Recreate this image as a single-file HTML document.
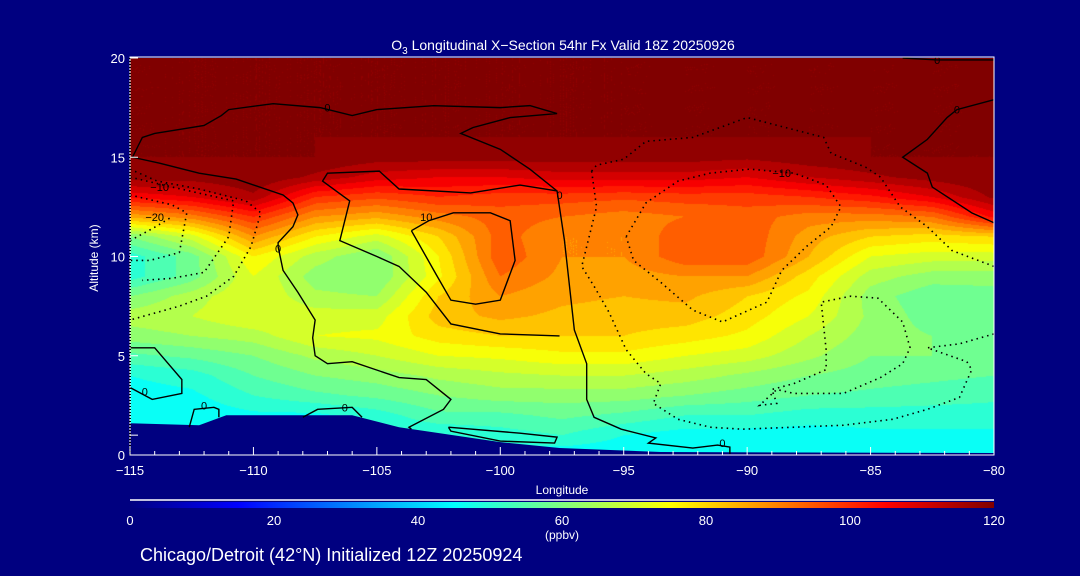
<!DOCTYPE html>
<html><head><meta charset="utf-8">
<style>
html,body{margin:0;padding:0;background:#000080;}
#wrap{position:relative;width:1080px;height:576px;background:#000080;overflow:hidden;font-family:"Liberation Sans",sans-serif;color:#fff;}
canvas{position:absolute;left:130px;top:58px;}
svg{position:absolute;left:0;top:0;}
</style></head>
<body>
<div id="wrap">
<canvas id="field" width="864" height="397"></canvas>
<svg id="svg" width="1080" height="576"></svg>
</div>
<script>
// ---- data ----
const lonNodes = [-115,-112.5,-110,-107.5,-105,-102.5,-100,-97.5,-95,-92.5,-90,-87.5,-85,-82.5,-80];
const altNodes = [0,1,2,3,4,5,6,7,8,9,10,11,12,13,14,15,16,17,18,19,20];
const ozone = [
[44,44,45,45,46,46,46,45,45,45,44,44,45,45,45],
[45,45,46,46,48,48,50,52,48,46,46,46,47,47,47],
[45,45,47,47,50,55,55,57,55,52,52,50,50,50,50],
[46,47,52,55,57,60,62,62,62,60,58,56,55,54,53],
[48,50,56,60,62,65,67,68,68,66,63,60,58,57,56],
[55,57,60,65,68,72,73,75,75,72,70,65,60,60,59],
[62,64,66,72,73,78,80,80,80,78,75,68,62,60,60],
[66,68,72,70,70,82,85,83,82,82,78,72,63,58,58],
[60,66,72,65,64,80,88,85,84,85,80,75,62,57,58],
[50,58,72,62,60,75,92,87,86,88,88,78,66,62,62],
[50,58,76,66,60,76,95,88,88,95,95,84,72,70,70],
[60,70,88,76,70,80,94,88,88,95,95,86,80,78,80],
[85,90,100,88,85,90,94,92,90,92,94,90,90,92,105],
[105,108,115,100,97,100,98,98,97,98,98,100,103,108,117],
[118,118,120,115,110,108,108,110,110,110,108,112,115,118,120],
[120,120,120,120,118,118,118,118,118,118,117,119,120,120,120],
[120,120,120,120,120,120,120,120,120,120,120,120,120,120,120],
[120,120,120,120,120,120,120,120,120,120,120,120,120,120,120],
[120,120,120,120,120,120,120,120,120,120,120,120,120,120,120],
[120,120,120,120,120,120,120,120,120,120,120,120,120,120,120],
[120,120,120,120,120,120,120,120,120,120,120,120,120,120,120]];
const terrain = [[-115,1.6],[-112.2,1.5],[-111.1,2.0],[-106.0,2.0],[-104.1,1.4],[-100.0,0.65],[-97.6,0.35],[-93.5,0.15],[-80,0.1]];
const xTicks = [-115,-110,-105,-100,-95,-90,-85,-80];
const yTicks = [0,5,10,15,20];
const cbTicks = [0,20,40,60,80,100,120];
// contour polylines [lon,alt]
const cSolid = [
[[-114.9,15.0],[-114.5,16.0],[-114.0,16.2],[-112.0,16.6],[-111.3,17.1],[-111.0,17.4],[-109.2,17.7],[-107.3,17.5],[-106.0,17.1],[-105.0,17.4],[-102.7,17.6],[-100.0,17.5],[-98.8,17.6],[-97.7,17.2],[-99.6,17.0],[-101.1,16.5],[-101.6,16.2],[-100.0,15.4],[-98.8,14.4],[-97.7,13.3],[-97.4,10.8],[-97.0,6.3],[-96.5,4.6],[-96.5,2.8],[-96.2,1.9],[-95.1,1.3],[-93.7,0.86],[-94.0,0.6],[-92.2,0.35],[-91.2,0.5],[-90.7,0.4],[-90.7,0.05]],
[[-114.9,15.0],[-113.8,14.7],[-112.2,14.2],[-110.7,13.9],[-108.8,13.1],[-108.4,12.7],[-108.2,12.1],[-108.4,11.5],[-109.0,10.7],[-109.0,10.5],[-108.8,9.3],[-108.2,8.2],[-107.5,6.8],[-107.6,5.9],[-107.5,5.0],[-107.0,4.6],[-106.0,4.7],[-104.1,3.9],[-103.0,3.8],[-102.0,2.8],[-102.3,2.3],[-103.7,1.4],[-103.6,1.3]],
[[-97.7,13.3],[-99.2,13.6],[-101.2,13.2],[-104.1,13.4],[-104.9,14.3],[-107.0,14.2],[-107.2,13.8],[-106.1,12.8],[-106.5,10.8],[-105.0,10.0],[-104.1,9.5],[-103.0,8.2],[-102.0,6.6],[-100.0,6.1],[-97.6,6.0]],
[[-103.6,11.3],[-102.9,11.8],[-101.9,12.2],[-100.4,12.2],[-99.6,11.8],[-99.4,9.8],[-100.0,7.8],[-101.0,7.6],[-102.0,7.8],[-102.6,9.1],[-103.6,11.3]],
[[-102.1,1.4],[-99.2,1.1],[-97.7,0.9],[-97.8,0.6],[-100.0,0.7],[-102.0,1.2],[-102.1,1.4]],
[[-80.0,17.9],[-81.5,17.4],[-81.9,17.0],[-82.7,15.9],[-83.7,15.0],[-82.7,14.2],[-82.5,13.5],[-80.9,12.2],[-80.0,11.7]],
[[-83.7,20.0],[-82.3,19.9],[-80.0,19.9]],
[[-115,5.4],[-114.0,5.4],[-112.9,3.8],[-112.9,3.1],[-114.1,2.8],[-115,3.4]],
[[-112.6,1.4],[-112.4,2.3],[-111.6,2.4],[-111.4,2.3],[-111.4,1.9]],
[[-108.0,1.9],[-107.4,2.3],[-106.0,2.4],[-105.6,1.9]]];
const cDotted = [
[[-96.3,14.3],[-96.1,14.6],[-95.0,14.9],[-94.1,15.8],[-92.2,16.0],[-90.0,17.0],[-86.9,16.0],[-86.6,15.2],[-85.2,14.5],[-84.6,14.0],[-83.8,12.5],[-82.7,11.5],[-81.7,10.3],[-80.0,9.5]],
[[-96.3,14.3],[-96.2,13.4],[-96.1,12.5],[-96.7,9.5],[-96.2,8.5],[-95.6,7.2],[-94.9,5.3],[-94.1,4.1],[-93.5,3.6],[-93.8,2.6],[-92.8,1.8],[-91.5,1.4],[-90.2,1.3],[-88.1,1.4],[-86.1,1.5],[-84.1,1.8],[-82.7,2.3],[-81.4,2.9],[-80.9,4.3],[-81.1,4.7],[-82.7,5.4],[-81.4,5.6],[-80.0,6.1]],
[[-94.9,11.0],[-94.1,12.7],[-92.8,13.8],[-91.5,14.2],[-89.9,14.4],[-88.1,14.2],[-86.8,13.6],[-86.2,12.5],[-86.6,11.5],[-87.6,10.5],[-88.6,9.3],[-89.2,7.7],[-91.0,6.7],[-92.2,7.3],[-93.5,8.7],[-94.6,9.8],[-94.9,11.0]],
[[-86.8,5.3],[-87.0,7.7],[-85.8,8.0],[-84.7,7.9],[-83.7,6.7],[-83.4,5.4],[-83.7,4.6],[-84.6,3.9],[-86.1,3.1],[-88.1,3.1],[-88.8,3.3],[-89.5,2.5],[-88.8,2.6],[-89.0,3.3],[-88.1,3.6],[-86.8,4.3],[-86.8,5.3]],
[[-115,14.4],[-113.9,13.8],[-112.2,13.4],[-110.3,12.8],[-109.7,12.2],[-110.1,10.5],[-110.8,9.0],[-111.9,8.0],[-113.0,7.5],[-115,6.8]],
[[-115,14.0],[-113.3,13.5],[-110.8,12.8],[-111.0,11.0],[-112.0,9.2],[-113.3,8.9],[-114.5,8.8]],
[[-115,13.1],[-113.3,12.6],[-112.7,12.2],[-113.0,10.2],[-114.2,9.8],[-115,9.8]],
[[-115,10.8],[-114.1,11.4],[-113.3,12.0]]];
const cLabels = [[-107.0,17.5,"0"],[-97.6,13.1,"0"],[-109.0,10.4,"0"],[-106.3,2.4,"0"],[-114.4,3.2,"0"],[-112.0,2.5,"0"],[-91.0,0.6,"0"],[-82.3,19.9,"0"],[-81.5,17.4,"0"],[-103.0,12.0,"10"],[-113.8,13.5,"−10"],[-88.6,14.2,"−10"],[-114.0,12.0,"−20"]];

// ---- axes ----
const X0=130,X1=994,Y0=455,Y1=58;
const sx = lon => X0+(lon+115)/35*(X1-X0);
const sy = alt => Y0-alt/20*(Y0-Y1);
function jet(v){
  const t=Math.max(0,Math.min(1,v/120));
  const c=a=>Math.round(255*Math.max(0,Math.min(1,a)));
  return [c(1.5-Math.abs(4*t-3)),c(1.5-Math.abs(4*t-2)),c(1.5-Math.abs(4*t-1))];
}
function sample(lon,alt){
  let fi=(lon+115)/2.5, fj=alt;
  fi=Math.max(0,Math.min(lonNodes.length-1.0001,fi));
  fj=Math.max(0,Math.min(altNodes.length-1.0001,fj));
  const i=Math.floor(fi),j=Math.floor(fj),a=fi-i,b=fj-j;
  return ozone[j][i]*(1-a)*(1-b)+ozone[j][i+1]*a*(1-b)+ozone[j+1][i]*(1-a)*b+ozone[j+1][i+1]*a*b;
}
// field
const cv=document.getElementById('field'),ctx=cv.getContext('2d');
const img=ctx.createImageData(864,397);
for(let py=0;py<397;py++){for(let px=0;px<864;px++){
  const lon=-115+(px+0.5)/864*35, alt=20-(py+0.5)/397*20;
  let v=sample(lon,alt); v=Math.floor(v/4)*4+2;
  const c=jet(v),k=(py*864+px)*4;
  img.data[k]=c[0];img.data[k+1]=c[1];img.data[k+2]=c[2];img.data[k+3]=255;
}}
ctx.putImageData(img,0,0);

const NS='http://www.w3.org/2000/svg',svg=document.getElementById('svg');
function mk(tag,attrs,parent){const e=document.createElementNS(NS,tag);for(const k in attrs)e.setAttribute(k,attrs[k]);(parent||svg).appendChild(e);return e;}
// terrain
let tp=terrain.map(p=>sx(p[0])+','+sy(p[1])).join(' ')+` ${X1},${Y0} ${X0},${Y0}`;
const terr=mk('polygon',{points:tp,fill:'#000080'});


// contours
cSolid.forEach(line=>{
  const p=mk('polyline',{points:line.map(q=>sx(q[0])+','+sy(q[1])).join(' '),fill:'none',stroke:'#000','stroke-width':1.4});
  
  
});
cDotted.forEach(line=>{
  const p=mk('polyline',{points:line.map(q=>sx(q[0])+','+sy(q[1])).join(' '),fill:'none',stroke:'#000','stroke-width':1.6,'stroke-dasharray':'1.5 4'});
  
  
});
cLabels.forEach(l=>{
  const t=mk('text',{x:sx(l[0]),y:sy(l[1])+4,'font-size':11,fill:'#000','text-anchor':'middle','font-family':'Liberation Sans, sans-serif'});
  t.textContent=l[2];
  
  
});
// frame
const fr=mk('rect',{x:X0,y:Y1-1,width:X1-X0,height:Y0-Y1+1,fill:'none',stroke:'#fff','stroke-width':1});


mk('line',{x1:X0,y1:Y1,x2:X0,y2:Y0,stroke:'#000','stroke-width':2,'stroke-dasharray':'1 2'});
// x ticks
for(let lon=-115;lon<=-80;lon++){
  const major=lon%5===0;
  mk('line',{x1:sx(lon),y1:Y0,x2:sx(lon),y2:Y0-(major?8:4),stroke:'#fff'});
}
xTicks.forEach(v=>{
  const t=mk('text',{x:sx(v),y:475,'font-size':13,fill:'#fff','text-anchor':'middle'});
  t.textContent=(v<0?'−':'')+Math.abs(v);
  
  
});
yTicks.forEach(v=>{
  mk('line',{x1:X0,y1:sy(v),x2:X0+8,y2:sy(v),stroke:'#fff'});
  const t=mk('text',{x:125,y:sy(v)+5,'font-size':13,fill:'#fff','text-anchor':'end'});
  t.textContent=v;
  
  
});
mk('line',{x1:X0,y1:sy(1),x2:X0+8,y2:sy(1),stroke:'#fff'});
// colorbar
const defs=mk('defs',{});
const grad=mk('linearGradient',{id:'cb',x1:0,x2:1,y1:0,y2:0},defs);
for(let v=0;v<=120;v+=5){const c=jet(v);mk('stop',{offset:v/120,'stop-color':`rgb(${c})`},grad);}
mk('line',{x1:130,y1:500,x2:994,y2:500,stroke:'#fff','stroke-width':1.5});
const cb=mk('rect',{x:130,y:502,width:864,height:6,fill:'url(#cb)'});


cbTicks.forEach(v=>{
  const t=mk('text',{x:130+v/120*864,y:525,'font-size':13,fill:'#fff','text-anchor':'middle'});
  t.textContent=v;
  
  
});
</script>
<svg width="1080" height="576" style="position:absolute;left:0;top:0">
<text x="563" y="50" font-size="14" fill="#fff" text-anchor="middle" font-family="Liberation Sans, sans-serif">O<tspan font-size="10" dy="4">3</tspan><tspan dy="-4"> Longitudinal X−Section 54hr  Fx Valid 18Z 20250926</tspan></text>
<text x="562" y="494" font-size="12" fill="#fff" text-anchor="middle" font-family="Liberation Sans, sans-serif">Longitude</text>
<text x="98" y="258" font-size="12" fill="#fff" text-anchor="middle" transform="rotate(-90 98 258)" font-family="Liberation Sans, sans-serif">Altitude (km)</text>
<text x="562" y="539" font-size="12" fill="#fff" text-anchor="middle" font-family="Liberation Sans, sans-serif">(ppbv)</text>
<text x="140" y="561" font-size="18" fill="#fff" font-family="Liberation Sans, sans-serif">Chicago/Detroit (42°N) Initialized 12Z 20250924</text>
</svg>
</body></html>
